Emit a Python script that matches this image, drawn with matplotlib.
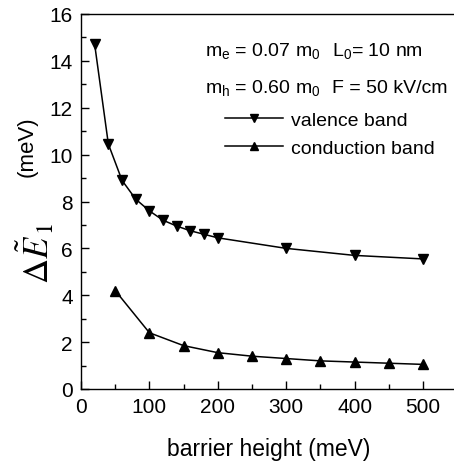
import numpy as np
import matplotlib
matplotlib.use('Agg')
import matplotlib.pyplot as plt

# data
barrier_vb = [20, 40, 60, 80, 100, 120, 140, 160, 180, 200, 300, 400, 500]
dE_vb = [14.7, 10.45, 8.9, 8.1, 7.6, 7.2, 6.95, 6.75, 6.6, 6.45, 6.0, 5.7, 5.55]
barrier_cb = [50, 100, 150, 200, 250, 300, 350, 400, 450, 500]
dE_cb = [4.2, 2.4, 1.85, 1.55, 1.4, 1.3, 1.2, 1.15, 1.1, 1.05]

xticks = [0, 100, 200, 300, 400, 500]
yticks = [0, 2, 4, 6, 8, 10, 12, 14, 16]

plt.rcParams['font.family'] = ['Liberation Sans', 'DejaVu Sans']
plt.rcParams['mathtext.fontset'] = 'custom'
plt.rcParams['mathtext.rm'] = 'Liberation Sans'
plt.rcParams['mathtext.it'] = 'Liberation Sans:italic'

W, H = 454, 464
fig = plt.figure(figsize=(W / 100, H / 100), dpi=100)

# Layout (pixels)
left, bottom, top = 81, 74, 15
x_per_unit = 342 / 500.0
xmax = 550
ax = fig.add_axes([left / W, bottom / H, xmax * x_per_unit / W,
                   (H - bottom - top) / H])

ax.plot(barrier_vb, dE_vb, color='black', lw=1.1, marker='v', ms=7.5,
        label='valence band')
ax.plot(barrier_cb, dE_cb, color='black', lw=1.1, marker='^', ms=7.5,
        label='conduction band')

ax.set_xlim(0, xmax)
ax.set_ylim(0, 16)
ax.set_xticks(xticks)
ax.set_yticks(yticks)
ax.set_xticks(np.arange(50, 550, 100), minor=True)
ax.set_yticks(np.arange(1, 16, 2), minor=True)
ax.tick_params(which='both', direction='in', labelsize=15, width=1)
ax.tick_params(which='major', length=6, pad=6)
ax.tick_params(which='minor', length=3.5)
ax.spines['right'].set_visible(False)
for s in ['left', 'bottom', 'top']:
    ax.spines[s].set_linewidth(1.0)

ax.set_xlabel('barrier height (meV)', fontsize=16.5, labelpad=15)

# y label: serif symbol plus sans unit
fig.text(36 / W, 1 - 253 / H, r'$\Delta\tilde{E}_{\,1}$', rotation=90,
         fontsize=25, ha='center', va='center', math_fontfamily='stix')
fig.text(27 / W, 1 - 147 / H, '(meV)', rotation=90, fontsize=16,
         ha='center', va='center')

# parameters
fs = 14
fig.text(205 / W, 1 - 56 / H, r'm$_\mathrm{e}$ = 0.07 m$_\mathrm{0}$',
         fontsize=fs, ha='left', va='baseline')
fig.text(332 / W, 1 - 56 / H, r'L$_\mathrm{0}$= 10 nm',
         fontsize=fs, ha='left', va='baseline')
fig.text(205 / W, 1 - 93 / H, r'm$_\mathrm{h}$ = 0.60 m$_\mathrm{0}$',
         fontsize=fs, ha='left', va='baseline')
fig.text(332 / W, 1 - 93 / H, 'F = 50 kV/cm',
         fontsize=fs, ha='left', va='baseline')

ax.legend(loc='upper left', bbox_to_anchor=(225 / W, 1 - 112 / H),
          bbox_transform=fig.transFigure, frameon=False, fontsize=fs,
          handlelength=3.0, handletextpad=0.4, labelspacing=0.55,
          borderpad=0, borderaxespad=0, markerscale=0.8)

fig.savefig('out.png', dpi=100)
